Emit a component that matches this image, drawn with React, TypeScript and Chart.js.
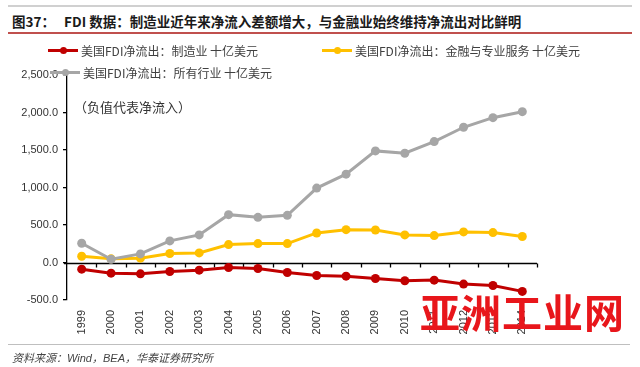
import React, { useEffect, useRef } from "react";
import { Chart, registerables } from "chart.js";

Chart.register(...registerables);

const years = ["1999","2000","2001","2002","2003","2004","2005","2006","2007","2008","2009","2010","2011","2012","2013","2014"];
const manufacturing = [-89,-142,-151,-120,-102,-66,-80,-133,-173,-182,-213,-244,-235,-288,-306,-385];
const finance = [84,49,58,120,128,239,252,252,394,438,434,368,359,408,399,346];
const allIndustries = [257,44,115,288,368,638,602,629,992,1178,1488,1457,1612,1803,1931,2011];
const seriesNames = [
  "美国FDI净流出：制造业 十亿美元",
  "美国FDI净流出：金融与专业服务 十亿美元",
  "美国FDI净流出：所有行业 十亿美元",
];
const colors = ["#C00000", "#FFC000", "#A6A6A6"];
const yMin = -500;
const yMax = 2500;
const yStep = 500;

const CJK = '"Noto Sans CJK SC", "Noto Sans", sans-serif';
const LAT = '"Liberation Sans", Arial, sans-serif';

const zeroAxisPlugin = {
  id: "zeroAxis",
  beforeDatasetsDraw(chart: any) {
    const { ctx, scales } = chart;
    const x = scales.x;
    const y = scales.y;
    const y0 = Math.round(y.getPixelForValue(0)) + 0.5;
    ctx.save();
    ctx.strokeStyle = "#000";
    ctx.lineWidth = 1.3;
    ctx.beginPath();
    ctx.moveTo(x.left - 3, y0);
    ctx.lineTo(x.right, y0);
    const n = years.length;
    const w = (x.right - x.left) / n;
    for (let i = 1; i <= n; i++) {
      const px = Math.round(x.left + i * w) + 0.5;
      ctx.moveTo(px, y0);
      ctx.lineTo(px, y0 + 4);
    }
    ctx.stroke();
    ctx.restore();
  },
};

function LegendItem({ color, label, left, top }: { color: string; label: string; left: number; top: number }) {
  return (
    <div style={{ position: "absolute", left, top, height: 16, display: "flex", alignItems: "center" }}>
      <div style={{ position: "relative", width: 30, height: 3, background: color, marginRight: 3 }}>
        <div style={{ position: "absolute", left: 12, top: -2, width: 7, height: 7, borderRadius: "50%", background: color }} />
      </div>
      <span style={{ font: `12px ${CJK}`, color: "#404040", whiteSpace: "nowrap" }}>{label}</span>
    </div>
  );
}

export default function App() {
  const ref = useRef<HTMLCanvasElement>(null);

  useEffect(() => {
    document.body.style.margin = "0";
    const datasets = [allIndustries, finance, manufacturing].map((d, i) => {
      const ci = [2, 1, 0][i];
      return {
        label: seriesNames[ci],
        data: d,
        borderColor: colors[ci],
        backgroundColor: colors[ci],
        borderWidth: 3,
        pointRadius: 4.5,
        pointHoverRadius: 4.5,
        pointBorderWidth: 0,
        tension: 0,
      };
    });
    const chart = new Chart(ref.current as HTMLCanvasElement, {
      type: "line",
      data: { labels: years, datasets },
      options: {
        animation: false,
        responsive: false,
        maintainAspectRatio: false,
        layout: { padding: { left: 0, right: 103, top: 75, bottom: 0 } },
        plugins: { legend: { display: false }, tooltip: { enabled: false } },
        scales: {
          x: {
            offset: true,
            grid: { display: false },
            border: { display: false },
            ticks: {
              minRotation: 90,
              maxRotation: 90,
              padding: 2,
              color: "#333",
              font: { family: LAT, size: 11 },
              autoSkip: false,
            },
            afterFit(scale: any) {
              scale.height = 67;
            },
          },
          y: {
            min: yMin,
            max: yMax,
            grid: { drawOnChartArea: false, drawTicks: true, tickLength: 4, color: "#000", lineWidth: 1.3 },
            border: { display: true, color: "#000", width: 1.3 },
            ticks: {
              stepSize: yStep,
              padding: 5,
              color: "#333",
              font: { family: LAT, size: 11 },
              callback: (v: any) =>
                Number(v).toLocaleString("en-US", { minimumFractionDigits: 1, maximumFractionDigits: 1 }),
            },
            afterFit(scale: any) {
              scale.width = 67;
            },
          },
        },
      },
      plugins: [zeroAxisPlugin],
    });
    return () => chart.destroy();
  }, []);

  return (
    <div style={{ position: "relative", width: 640, height: 367, background: "#fff", overflow: "hidden" }}>
      <div style={{ position: "absolute", left: 8, right: 8, top: 5, height: 2, background: "#d0d0d0" }} />
      <div style={{ position: "absolute", left: 12, top: 11, font: `bold 13.5px ${CJK}`, color: "#1a1a1a", whiteSpace: "nowrap" }}>
        图37：&nbsp;&nbsp;&nbsp;FDI 数据：制造业近年来净流入差额增大，与金融业始终维持净流出对比鲜明
      </div>
      <div style={{ position: "absolute", left: 8, right: 8, top: 32, height: 1.5, background: "#c0504d" }} />
      <canvas ref={ref} width={640} height={367} style={{ position: "absolute", left: 0, top: 0 }} />
      <LegendItem color={colors[0]} label={seriesNames[0]} left={48} top={42} />
      <LegendItem color={colors[1]} label={seriesNames[1]} left={322} top={42} />
      <LegendItem color={colors[2]} label={seriesNames[2]} left={50} top={64} />
      <div style={{ position: "absolute", left: 74, top: 97, font: `13px ${CJK}`, color: "#333", whiteSpace: "nowrap" }}>
        （负值代表净流入）
      </div>
      <div style={{ position: "absolute", left: 420, top: 282, font: `bold 40px ${CJK}`, color: "#e8161b", whiteSpace: "nowrap", letterSpacing: 1 }}>
        亚洲工业网
      </div>
      <div style={{ position: "absolute", left: 8, right: 10, top: 344, height: 1, background: "#bfbfbf" }} />
      <div style={{ position: "absolute", left: 12, top: 349, font: `italic 11px ${CJK}`, color: "#444", whiteSpace: "nowrap" }}>
        资料来源：<span style={{ fontFamily: LAT }}>Wind</span>，<span style={{ fontFamily: LAT }}>BEA</span>，华泰证券研究所
      </div>
    </div>
  );
}
